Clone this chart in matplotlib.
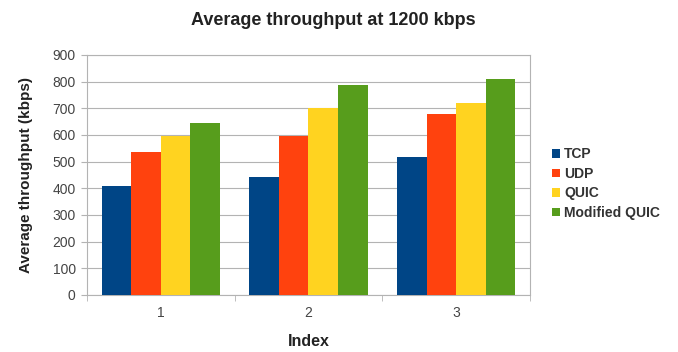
import matplotlib
matplotlib.use("Agg")
import matplotlib.pyplot as plt
import numpy as np

categories = ["1", "2", "3"]
series_names = ["TCP", "UDP", "QUIC", "Modified QUIC"]
tcp = [409, 444, 516]
udp = [535, 597, 679]
quic = [597, 702, 719]
mod_quic = [644, 787, 810]
colors = ["#004586", "#ff420e", "#ffd320", "#579d1c"]

plt.rcParams['font.family'] = ['Liberation Sans', 'DejaVu Sans']

fig = plt.figure(figsize=(6.78, 3.52), dpi=100)
ax = fig.add_axes([0.128, 0.162, 0.654, 0.682])

x = np.arange(len(categories))
w = 0.2
for i, (vals, name) in enumerate(zip([tcp, udp, quic, mod_quic], series_names)):
    ax.bar(x - 0.3 + i * w, vals, width=w, color=colors[i], label=name, zorder=3)

ax.set_xlim(-0.5, 2.5)
ax.set_ylim(0, 900)
ax.set_yticks(np.arange(0, 901, 100))
ax.set_xticks(x)
ax.set_xticklabels(categories)
ax.set_xticks(np.arange(-0.5, 2.6, 1), minor=True)
ax.tick_params(axis='x', which='major', length=0, labelsize=10, colors='#444444', pad=8)
ax.tick_params(axis='x', which='minor', length=4, color='#b3b3b3')
ax.tick_params(axis='y', length=4, color='#b3b3b3', labelsize=10, labelcolor='#444444', pad=4)
ax.grid(axis='y', color='#b3b3b3', linewidth=0.8, zorder=0)
for s in ax.spines.values():
    s.set_color('#b3b3b3')
    s.set_linewidth(0.8)

fig.text(0.491, 0.943, "Average throughput at 1200 kbps", fontsize=13, fontweight='bold',
         color='#222222', ha='center', va='center')
ax.set_ylabel("Average throughput (kbps)", fontsize=11, fontweight='bold', color='#222222', labelpad=14)
ax.set_xlabel("Index", fontsize=11.5, fontweight='bold', color='#222222', labelpad=10)

leg = fig.legend(loc='upper left', bbox_to_anchor=(0.795, 0.617), frameon=False,
                 handlelength=0.6, handleheight=0.6, handletextpad=0.3,
                 labelspacing=0.4, fontsize=10)
for t in leg.get_texts():
    t.set_fontweight('bold')
    t.set_color('#333333')

fig.savefig("out.png", dpi=100)
